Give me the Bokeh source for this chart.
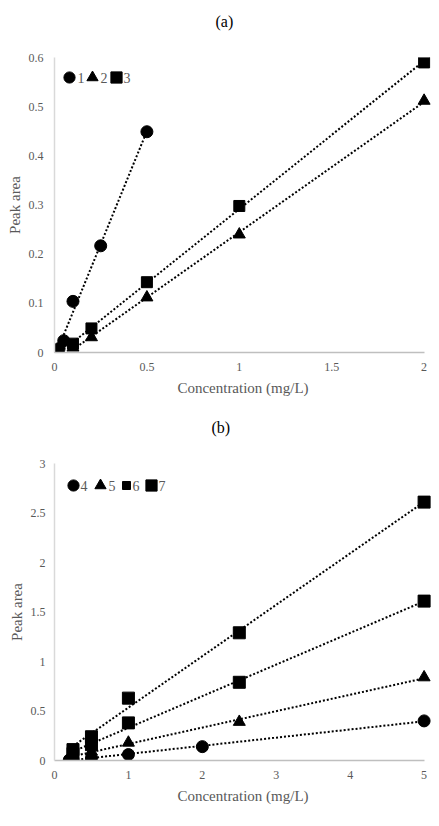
import numpy as np
from bokeh.plotting import figure
from bokeh.models import Range1d, FixedTicker, Legend, LegendItem, Title, Label
from bokeh.layouts import column
from bokeh.embed import file_html
from bokeh.resources import INLINE

# ---- data (a) ----
a_x1 = [0.025, 0.05, 0.1, 0.25, 0.5]
a_y1 = [0.008, 0.024, 0.104, 0.217, 0.449]
a_x2 = [0.1, 0.2, 0.5, 1.0, 2.0]
a_y2 = [0.010, 0.031, 0.112, 0.240, 0.512]
a_x3 = [0.1, 0.2, 0.5, 1.0, 2.0]
a_y3 = [0.018, 0.049, 0.143, 0.298, 0.590]
a_labels = ["1", "2", "3"]
a_xticks = [0, 0.5, 1, 1.5, 2]
a_xtick_labels = ["0", "0.5", "1", "1.5", "2"]
a_yticks = [0, 0.1, 0.2, 0.3, 0.4, 0.5, 0.6]
a_ytick_labels = ["0", "0.1", "0.2", "0.3", "0.4", "0.5", "0.6"]

# ---- data (b) ----
b_x4 = [0.2, 0.25, 0.5, 1.0, 2.0, 5.0]
b_y4 = [0.005, 0.010, 0.025, 0.060, 0.140, 0.400]
b_x5 = [0.25, 0.5, 1.0, 2.5, 5.0]
b_y5 = [0.040, 0.090, 0.180, 0.390, 0.840]
b_x6 = [0.25, 0.5, 1.0, 2.5, 5.0]
b_y6 = [0.070, 0.160, 0.380, 0.790, 1.610]
b_x7 = [0.25, 0.5, 1.0, 2.5, 5.0]
b_y7 = [0.110, 0.240, 0.630, 1.290, 2.610]
b_labels = ["4", "5", "6", "7"]
b_xticks = [0, 1, 2, 3, 4, 5]
b_xtick_labels = ["0", "1", "2", "3", "4", "5"]
b_yticks = [0, 0.5, 1, 1.5, 2, 2.5, 3]
b_ytick_labels = ["0", "0.5", "1", "1.5", "2", "2.5", "3"]

FONT = "'Liberation Serif', 'Times New Roman', serif"
GRAY = "#595959"


def make_panel(title, series, markers, sizes, labels, xr, yr, xb, yb,
               xticks, xtl, yticks, ytl, h, borders, ystand,
               leg_locs, leg_glyphs, num_x, num_y, title_offset, spacer):
    left, right, top, bottom = borders
    p = figure(width=439, height=h, output_backend="svg", toolbar_location=None,
               x_range=Range1d(*xr), y_range=Range1d(*yr),
               min_border_left=left, min_border_right=right,
               min_border_top=top, min_border_bottom=bottom,
               title=None)
    # spacer (closest to frame) then the visible title above it
    p.add_layout(Title(text=" ", text_font_size="1px", standoff=spacer), "above")
    p.add_layout(Title(text=title, align="left", offset=title_offset,
                       text_font=FONT, text_font_size="16px",
                       text_font_style="normal", text_color="#000000",
                       standoff=0), "above")
    p.outline_line_color = None
    p.xgrid.visible = False
    p.ygrid.visible = False

    for (xs, ys), mk, sz, lb, loc, g, nx in zip(series, markers, sizes, labels,
                                              leg_locs, leg_glyphs, num_x):
        k, b = np.polyfit(xs, ys, 1)
        x0, x1 = min(xs), max(xs)
        p.line([x0, x1], [k * x0 + b, k * x1 + b], line_color="black",
               line_width=2, line_dash="2 2")
        r = p.scatter(xs, ys, marker=mk, size=sz, fill_color="black",
                      line_color="black")
        leg = Legend(items=[LegendItem(label=" ", renderers=[r])],
                     orientation="horizontal", location=loc,
                     margin=0, padding=0, glyph_width=g, glyph_height=g,
                     label_standoff=0, spacing=0, label_width=1,
                     label_height=1, label_text_font_size="1px",
                     background_fill_alpha=0, border_line_color=None)
        p.add_layout(leg, "center")
        p.add_layout(Label(x=nx, y=num_y, x_units="screen", y_units="screen",
                           text=lb, text_font=FONT, text_font_size="14px",
                           text_color=GRAY, text_align="left",
                           text_baseline="middle"))

    xa = p.xaxis[0]
    xa.ticker = FixedTicker(ticks=xticks)
    xa.major_label_overrides = {t: l for t, l in zip(xticks, xtl)}
    xa.bounds = xb
    xa.axis_line_color = "#bfbfbf"
    xa.axis_line_width = 1.5
    xa.major_tick_line_color = None
    xa.minor_tick_line_color = None
    xa.major_tick_out = 0
    xa.major_tick_in = 0
    xa.minor_tick_out = 0
    xa.major_label_text_font = FONT
    xa.major_label_text_font_size = "12px"
    xa.major_label_text_color = GRAY
    xa.major_label_standoff = 10
    xa.axis_label = "Concentration (mg/L)"
    xa.axis_label_text_font = FONT
    xa.axis_label_text_font_size = "15px"
    xa.axis_label_text_font_style = "normal"
    xa.axis_label_text_color = GRAY
    xa.axis_label_standoff = 6

    ya = p.yaxis[0]
    ya.ticker = FixedTicker(ticks=yticks)
    ya.major_label_overrides = {t: l for t, l in zip(yticks, ytl)}
    ya.bounds = yb
    ya.axis_line_color = "#d9d9d9"
    ya.axis_line_width = 1.5
    ya.major_tick_line_color = None
    ya.minor_tick_line_color = None
    ya.major_tick_out = 0
    ya.major_tick_in = 0
    ya.minor_tick_out = 0
    ya.major_label_text_font = FONT
    ya.major_label_text_font_size = "12px"
    ya.major_label_text_color = GRAY
    ya.major_label_standoff = ystand
    ya.axis_label = "Peak area"
    ya.axis_label_text_font = FONT
    ya.axis_label_text_font_size = "15px"
    ya.axis_label_text_font_style = "normal"
    ya.axis_label_text_color = GRAY
    ya.axis_label_standoff = 3
    return p


pa = make_panel("(a)", [(a_x1, a_y1), (a_x2, a_y2), (a_x3, a_y3)],
                ["circle", "triangle", "square"], [12, 12, 11], a_labels,
                (0, 2.04), (0, 0.6), (0, 2), (0, 0.6),
                a_xticks, a_xtick_labels, a_yticks, a_ytick_labels,
                406, (50, 3, 57, 54), 11,
                [(1, 261), (24, 261), (48, 261)], [28, 28, 28],
                [23, 46, 69], 275, 161, 25)

pb = make_panel("(b)", [(b_x4, b_y4), (b_x5, b_y5), (b_x6, b_y6), (b_x7, b_y7)],
                ["circle", "triangle", "square", "square"], [12, 12, 12, 12], b_labels,
                (0, 5.1), (0, 3.0), (0, 5), (0, 3),
                b_xticks, b_xtick_labels, b_yticks, b_ytick_labels,
                420, (54, 8, 57, 66), 9,
                [(5, 261), (32, 261), (62, 265), (83, 261)], [28, 28, 20, 28],
                [26, 54, 78, 104], 275, 157, 25)

layout = column(pa, pb, spacing=0)
open("out.html", "w").write(file_html(layout, INLINE))
